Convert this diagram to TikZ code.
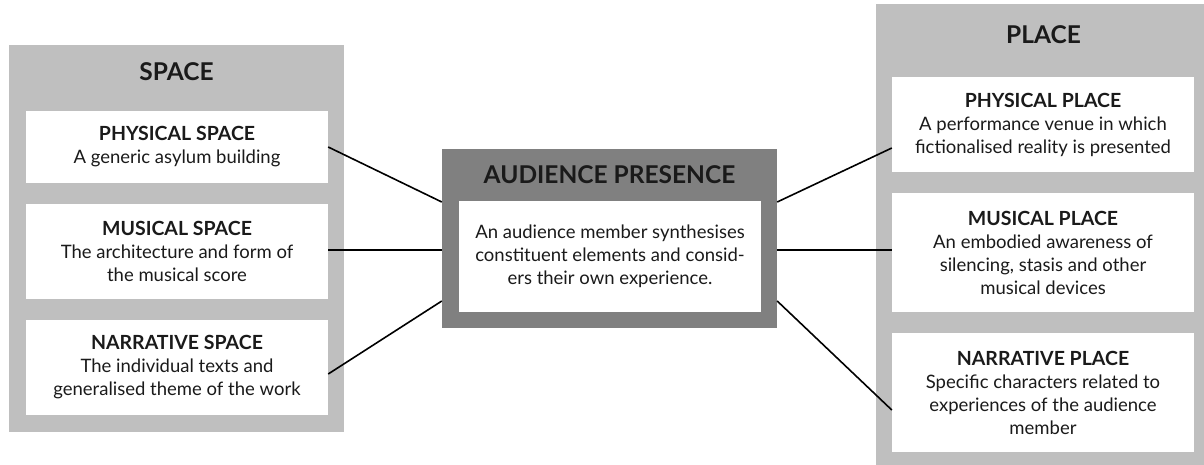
\documentclass[tikz,border=0pt]{standalone}
\usepackage{fontspec}
\setmainfont{Lato}
\definecolor{panelgray}{HTML}{BFBFBF}
\definecolor{darkgray}{HTML}{808080}
\definecolor{txt}{HTML}{1A1A1A}
\newcommand{\hd}[1]{{\fontsize{19.5}{23}\selectfont\bfseries #1}}
\begin{document}
\begin{tikzpicture}[x=1pt,y=-1pt,
  panel/.style={fill=panelgray, draw=none, inner sep=0pt, minimum width=335pt},
  centerbox/.style={fill=darkgray, draw=none, inner sep=0pt, minimum width=335pt, minimum height=179pt},
  card/.style={fill=white, draw=none, inner sep=0pt, minimum width=302pt, align=center,
    text=txt, font=\fontsize{18.5}{23}\selectfont},
  paneltitle/.style={inner sep=0pt, text=txt, font=\fontsize{24.5}{28}\selectfont\bfseries},
  link/.style={draw=black, line width=1.6pt}
]
\useasboundingbox (0,0) rectangle (1204,464);

% left panel
\node[panel, minimum height=387pt] (spacebg) at (176.5,238.5) {};
\node[paneltitle] (spacet) at (176.5,72) {SPACE};
\node[card, minimum height=72pt] (ps) at (177,147) {\hd{PHYSICAL SPACE}\\A generic asylum building};
\node[card, minimum height=95pt] (ms) at (177,251.5) {\hd{MUSICAL SPACE}\\The architecture and form of\\the musical score};
\node[card, minimum height=95pt] (ns) at (177,367.5) {\hd{NARRATIVE SPACE}\\The individual texts and\\generalised theme of the work};

% center
\node[centerbox] (aud) at (609.5,238.5) {};
\node[paneltitle] (audt) at (609.5,175) {AUDIENCE PRESENCE};
\node[card, minimum height=111pt] (audin) at (610,256.5) {An audience member synthesises\\constituent elements and consid-\\ers their own experience.};

% right panel
\begin{scope}
\clip (0,0) rectangle (1204,464);
\node[panel, minimum height=470pt] (placebg) at (1043.5,239) {};
\end{scope}
\node[paneltitle] (placet) at (1043.5,35) {PLACE};
\node[card, minimum height=95pt] (pp) at (1043,124.5) {\hd{PHYSICAL PLACE}\\A performance venue in which\\fictionalised reality is presented};
\node[card, minimum height=119pt] (mp) at (1043,252.5) {\hd{MUSICAL PLACE}\\An embodied awareness of\\silencing, stasis and other\\musical devices};
\node[card, minimum height=119pt] (np) at (1043,392.5) {\hd{NARRATIVE PLACE}\\Specific characters related to\\experiences of the audience\\member};

% connectors
\draw[link] (ps.east) -- ([yshift=36.5pt]aud.west);
\draw[link] ([yshift=1.5pt]ms.east) -- ([yshift=-11.5pt]aud.west);
\draw[link] ([yshift=-6.5pt]ns.east) -- ([yshift=-62.5pt]aud.west);
\draw[link] ([yshift=36.5pt]aud.east) -- ([yshift=-23.5pt]pp.west);
\draw[link] ([yshift=-11.5pt]aud.east) -- ([yshift=2.5pt]mp.west);
\draw[link] ([yshift=-62.5pt]aud.east) -- ([yshift=-17.5pt]np.west);
\end{tikzpicture}
\end{document}
